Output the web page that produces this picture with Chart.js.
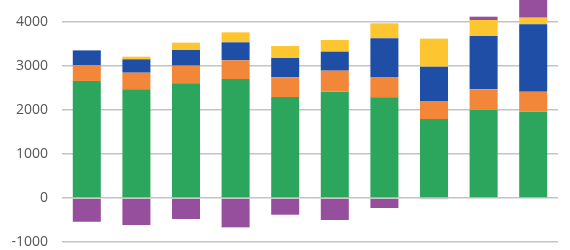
<!DOCTYPE html>
<html>
<head>
<meta charset="utf-8">
<script src="https://cdn.jsdelivr.net/npm/chart.js@4/dist/chart.umd.min.js"></script>
<style>
  html, body { margin: 0; padding: 0; background: #ffffff; }
  #wrap { width: 570px; height: 250px; position: relative; }
</style>
</head>
<body>
<div id="wrap"><canvas id="c"></canvas></div>
<script>
const categories = ["1", "2", "3", "4", "5", "6", "7", "8", "9", "10"];
const greenValues  = [2660, 2470, 2606, 2705, 2295, 2417, 2288, 1795, 2000, 1962];
const orangeValues = [355, 378, 402, 424, 447, 477, 462, 410, 470, 455];
const blueValues   = [340, 304, 356, 409, 440, 432, 879, 780, 1212, 1530];
const yellowValues = [0, 60, 166, 227, 273, 265, 341, 636, 363, 151];
const purpleValues = [-540, -614, -477, -667, -380, -500, -227, -25, 76, 500];
const yTickValues  = [-1000, 0, 1000, 2000, 3000, 4000];

function ds(label, data, color) {
  return { label, data, backgroundColor: color, borderWidth: 0,
           barPercentage: 0.565, categoryPercentage: 1.0, stack: 's' };
}

new Chart(document.getElementById('c'), {
  type: 'bar',
  data: {
    labels: categories,
    datasets: [
      ds('Green', greenValues, '#2ca55d'),
      ds('Orange', orangeValues, '#f2873a'),
      ds('Blue', blueValues, '#1f4ea6'),
      ds('Yellow', yellowValues, '#fdc530'),
      ds('Purple', purpleValues, '#964f9d')
    ]
  },
  options: {
    responsive: true,
    maintainAspectRatio: false,
    animation: false,
    layout: { padding: { top: 0, right: 12, bottom: 8, left: 0 } },
    plugins: { legend: { display: false }, tooltip: { enabled: false } },
    scales: {
      x: { display: false, stacked: true },
      y: {
        stacked: true,
        min: -1000,
        max: 4500,
        border: { display: false },
        grid: { color: '#c4c4c4', lineWidth: 1.6, drawTicks: false },
        afterBuildTicks: (scale) => {
          scale.ticks = yTickValues.map(v => ({ value: v }));
        },
        afterFit: (scale) => {
          scale.width = 62;
          scale.paddingTop = 0;
          scale.paddingBottom = 0;
        },
        ticks: {
          padding: 14,
          color: '#555555',
          font: { family: 'Open Sans', size: 14 },
          callback: (v) => String(v)
        }
      }
    }
  }
});
</script>
</body>
</html>
